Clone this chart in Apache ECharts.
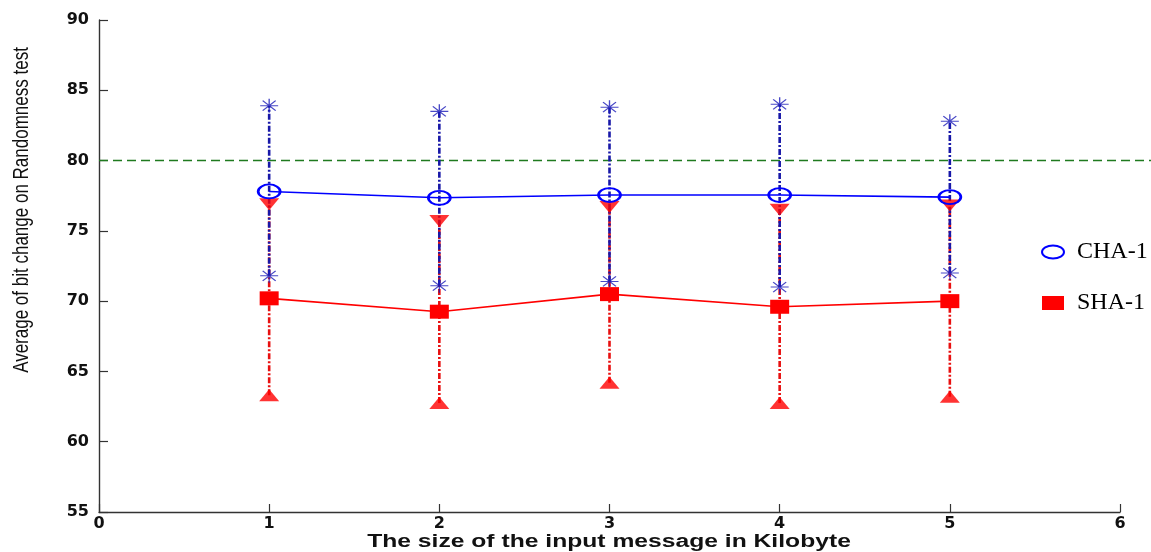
<!DOCTYPE html>
<html><head><meta charset="utf-8">
<script src="https://cdn.jsdelivr.net/npm/echarts@6/dist/echarts.min.js"></script>
<style>html,body{margin:0;padding:0;background:#fff}#c{width:1151px;height:552px}</style>
</head><body><div id="c"></div>
<script>
const sizes = [1, 2, 3, 4, 5];
const chaMean = [77.8, 77.35, 77.55, 77.55, 77.4];
const chaHigh = [83.9, 83.5, 83.8, 84.0, 82.8];
const chaLow  = [71.8, 71.1, 71.4, 71.0, 72.0];
const shaMean = [70.2, 69.25, 70.5, 69.6, 70.0];
const shaHigh = [76.9, 75.7, 76.7, 76.5, 76.8];
const shaLow  = [63.3, 62.75, 64.2, 62.75, 63.2];
const thresholdY = 80;
const xTicks = [0, 1, 2, 3, 4, 5, 6];
const yTicks = [55, 60, 65, 70, 75, 80, 85, 90];
const xTitle = 'The size of the input message in Kilobyte';
const yTitle = 'Average of bit change on Randomness test';
const legendNames = ['CHA-1', 'SHA-1'];

const ellipse = 'path://M-11,0A11,6.5 0 1,1 11,0A11,6.5 0 1,1 -11,0Z';
const star = 'path://M0,-7L0,7M-9,0L9,0M-6.5,-5L6.5,5M-6.5,5L6.5,-5';

function errBar(lo, hi, color, z) {
  return {
    type: 'custom', silent: true, z: z,
    data: sizes.map((x, i) => [x, lo[i], hi[i]]),
    renderItem: function (params, api) {
      const a = api.coord([api.value(0), api.value(1)]);
      const b = api.coord([api.value(0), api.value(2)]);
      return { type: 'line', shape: { x1: a[0], y1: a[1], x2: b[0], y2: b[1] },
        style: { stroke: color, lineWidth: 2.6, lineDash: [6, 2, 2, 2] } };
    }
  };
}

const chart = echarts.init(document.getElementById('c'));
chart.setOption({
  animation: false,
  backgroundColor: '#fff',
  grid: { left: 99, right: 31, top: 20, bottom: 40, outerBoundsMode: 'none', containLabel: false },
  xAxis: {
    type: 'value', min: xTicks[0], max: xTicks[xTicks.length - 1], interval: 1,
    axisLine: { lineStyle: { color: '#333', width: 1.4 } },
    axisTick: { inside: true, length: 8, lineStyle: { color: '#333', width: 1.2 } },
    axisLabel: { fontFamily: 'DejaVu Sans', fontWeight: 'bold', fontSize: 16, color: '#111', margin: 4 },
    splitLine: { show: false }
  },
  yAxis: {
    type: 'value', min: yTicks[0], max: yTicks[yTicks.length - 1], interval: 5,
    axisLine: { lineStyle: { color: '#333', width: 1.4 } },
    axisTick: { inside: true, length: 9, lineStyle: { color: '#333', width: 1.2 } },
    axisLabel: { fontFamily: 'DejaVu Sans', fontWeight: 'bold', fontSize: 16, color: '#111', margin: 10 },
    splitLine: { show: false }
  },
  graphic: [
    { type: 'text', x: 609, y: 542, scaleX: 1.37, silent: true,
      style: { text: xTitle, font: 'bold 18px "Liberation Sans", Arial, sans-serif', fill: '#111',
               textAlign: 'center', textVerticalAlign: 'middle' } },
    { type: 'text', x: 22, y: 210, rotation: Math.PI / 2, scaleY: 1.3, silent: true,
      style: { text: yTitle, font: '17px "Liberation Sans", Arial, sans-serif', fill: '#111',
               textAlign: 'center', textVerticalAlign: 'middle' } }
  ],
  legend: {
    data: [{ name: legendNames[0], icon: ellipse }, { name: legendNames[1], icon: 'rect' }],
    orient: 'vertical', left: 1036, top: 235, itemGap: 27,
    itemWidth: 22, itemHeight: 14,
    textStyle: { fontFamily: 'Liberation Serif', fontSize: 24, color: '#000', lineHeight: 24, padding: [0, 0, 0, 8] }
  },
  series: [
    {
      type: 'custom', silent: true, z: 1,
      data: [[xTicks[0], thresholdY]],
      renderItem: function (params, api) {
        const p = api.coord([api.value(0), api.value(1)]);
        return { type: 'line', shape: { x1: p[0], y1: p[1], x2: api.getWidth(), y2: p[1] },
          style: { stroke: '#1f7a1f', lineWidth: 1.6, lineDash: [9, 5] } };
      }
    },
    errBar(shaLow, shaHigh, '#e81010', 2),
    errBar(chaLow, chaHigh, '#1818a8', 3),
    {
      type: 'scatter', silent: true, symbol: star, symbolSize: [18, 14], z: 4,
      data: sizes.map((x, i) => [x, chaHigh[i]]).concat(sizes.map((x, i) => [x, chaLow[i]])),
      itemStyle: { color: 'rgba(0,0,0,0)', borderColor: '#1a1ab8', borderWidth: 1.2 }
    },
    {
      type: 'scatter', silent: true, symbol: 'triangle', symbolSize: [20, 12], symbolRotate: 180, z: 3,
      data: sizes.map((x, i) => [x, shaHigh[i]]),
      itemStyle: { color: '#ff0000' }
    },
    {
      type: 'scatter', silent: true, symbol: 'triangle', symbolSize: [20, 12], z: 3,
      data: sizes.map((x, i) => [x, shaLow[i]]),
      itemStyle: { color: '#ff0000' }
    },
    {
      type: 'line', name: legendNames[0], symbol: ellipse, symbolSize: [22, 14], showAllSymbol: true, z: 5,
      data: sizes.map((x, i) => [x, chaMean[i]]),
      lineStyle: { color: '#0000ff', width: 1.6 },
      itemStyle: { color: 'rgba(0,0,0,0)', borderColor: '#0000ff', borderWidth: 2.2 }
    },
    {
      type: 'line', name: legendNames[1], symbol: 'rect', symbolSize: [19, 14], showAllSymbol: true, z: 5,
      data: sizes.map((x, i) => [x, shaMean[i]]),
      lineStyle: { color: '#ff0000', width: 1.6 },
      itemStyle: { color: '#ff0000' }
    }
  ]
});
</script>
</body></html>
